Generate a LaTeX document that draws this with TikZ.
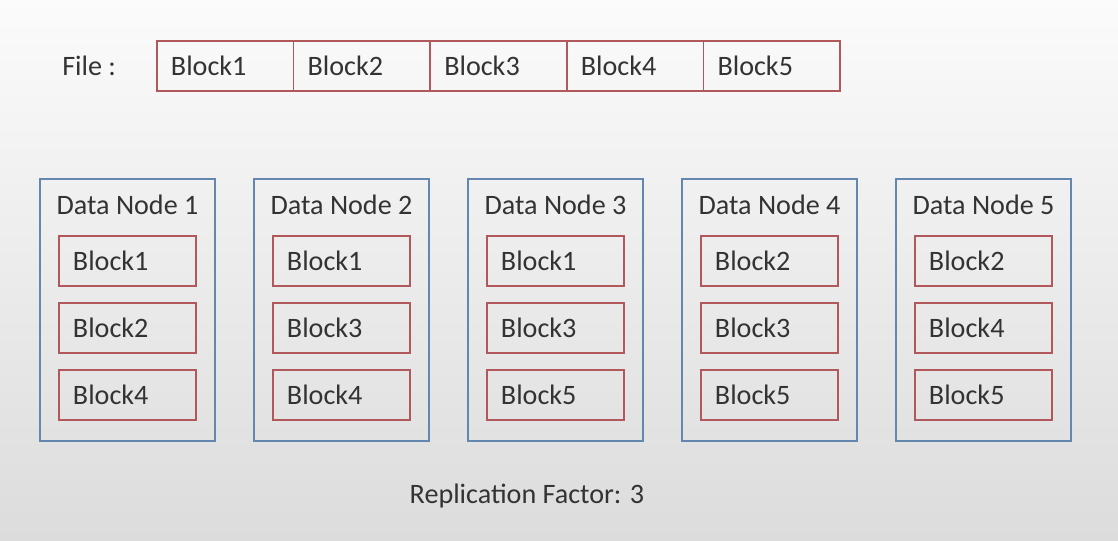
\documentclass[tikz,border=0pt]{standalone}
\usepackage{fontspec}
\setmainfont{Carlito}
\usetikzlibrary{positioning}
\definecolor{bgTop}{HTML}{FBFBFB}
\definecolor{bgBottom}{HTML}{DCDCDC}
\definecolor{blockRed}{HTML}{B0585C}
\definecolor{nodeBlue}{HTML}{6487B0}
\definecolor{textGray}{HTML}{333333}

\begin{document}
\begin{tikzpicture}[x=0.025cm, y=0.025cm, font=\fontsize{20}{24}\selectfont, text=textGray,
    fileblk/.style={draw=blockRed, line width=1.2pt, outer sep=0pt, minimum height=1.25cm,
        text width=2.715cm, inner xsep=0.35cm, align=left},
    blk/.style={draw=blockRed, line width=1.2pt, outer sep=0pt, minimum height=1.25cm,
        text width=2.725cm, inner xsep=0.35cm, align=left},
    dnbox/.style={draw=nodeBlue, line width=1.2pt, outer sep=0pt, minimum width=4.375cm, minimum height=6.55cm}]
    \shade[top color=bgTop, bottom color=bgBottom] (0,0) rectangle (1118,540);
    % file split into blocks
    \node[anchor=west, inner sep=0pt] (fileLbl) at (62,474) {File :};
    \node[fileblk] (f1) at (225.3,474) {Block1};
    \node[fileblk, right=0pt of f1] (f2) {Block2};
    \node[fileblk, right=0pt of f2] (f3) {Block3};
    \node[fileblk, right=0pt of f3] (f4) {Block4};
    \node[fileblk, right=0pt of f4] (f5) {Block5};
    % data nodes with their replicas
    \foreach \i/\a/\b/\c in {1/1/2/4, 2/1/3/4, 3/1/3/5, 4/2/3/5, 5/2/4/5} {
        \pgfmathsetmacro{\xc}{127.5+(\i-1)*214}
        \node[dnbox] (dn\i) at (\xc,230) {};
        \node[inner sep=0pt] (dnLbl\i) at (\xc,335) {Data Node \i};
        \node[blk, below=1.425cm of dn\i.north] (b\i1) {Block\a};
        \node[blk, below=0.425cm of b\i1] (b\i2) {Block\b};
        \node[blk, below=0.425cm of b\i2] (b\i3) {Block\c};
    }
    \node[inner sep=0pt] (repl) at (527,44) {Replication Factor: 3};
\end{tikzpicture}
\end{document}
